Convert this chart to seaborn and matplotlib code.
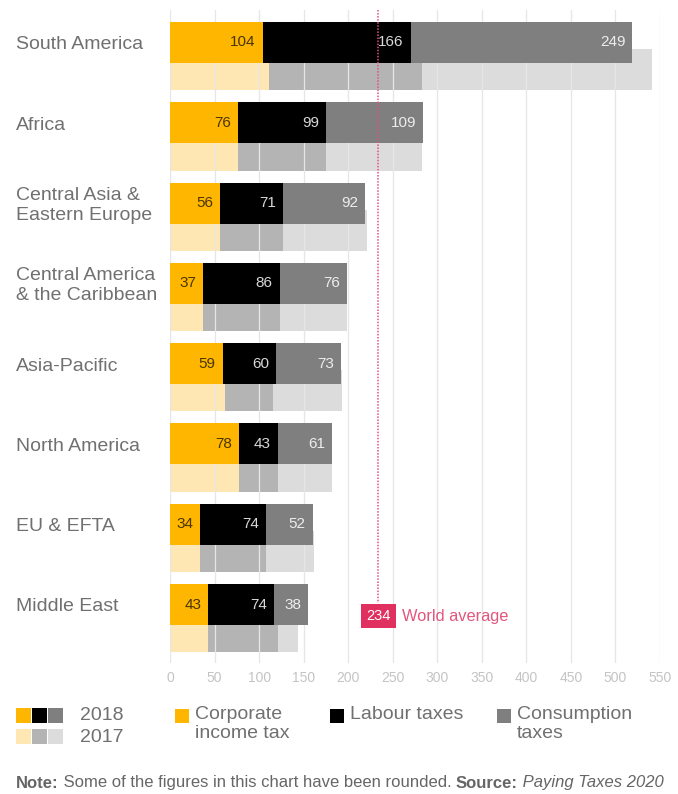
import matplotlib
matplotlib.use("Agg")
import matplotlib.pyplot as plt
import matplotlib.transforms as mtransforms
from matplotlib.patches import Rectangle
import numpy as np
import pandas as pd
import seaborn as sns

# ---------------- data ----------------
regions = ["South America", "Africa", "Central Asia &\nEastern Europe",
           "Central America\n& the Caribbean", "Asia-Pacific", "North America",
           "EU & EFTA", "Middle East"]
corp_2018 = [104, 76, 56, 37, 59, 78, 34, 43]
labour_2018 = [166, 99, 71, 86, 60, 43, 74, 74]
cons_2018 = [249, 109, 92, 76, 73, 61, 52, 38]
corp_2017 = [111, 76, 56, 37, 62, 78, 34, 43]
labour_2017 = [172, 99, 71, 86, 54, 43, 74, 78]
cons_2017 = [258, 108, 94, 76, 77, 61, 54, 23]
world_average = 234
x_ticks = [0, 50, 100, 150, 200, 250, 300, 350, 400, 450, 500, 550]

# ---------------- style ----------------
sns.set_theme(style="white")
plt.rcParams["font.family"] = ["Liberation Sans", "DejaVu Sans"]

C_CORP, C_LAB, C_CONS = "#FFB600", "#000000", "#7F7F7F"
C_CORP17, C_LAB17, C_CONS17 = "#FFE7B3", "#B4B4B4", "#DCDCDC"
RED = "#E0305F"
TXT = "#707070"

W, H = 678, 794
fig = plt.figure(figsize=(W / 100, H / 100), dpi=100)

# axes placement in pixels
ax_left, ax_right, ax_top, ax_bottom = 170, 660, 10, 663
ax = fig.add_axes([ax_left / W, 1 - ax_bottom / H,
                   (ax_right - ax_left) / W, (ax_bottom - ax_top) / H])

pitch = 80.29
y0 = 42.5
bar_h = 0.51
off17 = 0.34

pos18 = np.arange(len(regions), dtype=float)
pos17 = pos18 + off17

def stacked(pos, a, b, c, cols, z):
    a = np.array(a, float); b = np.array(b, float); c = np.array(c, float)
    layers = [(a + b + c, cols[2]), (a + b, cols[1]), (a, cols[0])]
    for vals, col in layers:
        df = pd.DataFrame({"value": vals, "pos": pos})
        sns.barplot(data=df, x="value", y="pos", orient="h", native_scale=True,
                    width=bar_h, color=col, saturation=1, linewidth=0,
                    errorbar=None, ax=ax, zorder=z)

stacked(pos17, corp_2017, labour_2017, cons_2017, (C_CORP17, C_LAB17, C_CONS17), 1)
stacked(pos18, corp_2018, labour_2018, cons_2018, (C_CORP, C_LAB, C_CONS), 2)

# value labels on 2018 bars
label_font = ["Liberation Sans Narrow", "Liberation Sans", "DejaVu Sans"]
for i in range(len(regions)):
    c1 = corp_2018[i]
    c2 = c1 + labour_2018[i]
    c3 = c2 + cons_2018[i]
    for xe, v, col in [(c1, corp_2018[i], "#4A3600"), (c2, labour_2018[i], "#D8D8D8"),
                       (c3, cons_2018[i], "#EDEDED")]:
        ax.annotate(str(v), xy=(xe, pos18[i]), xytext=(-5, 0), textcoords="offset points",
                    ha="right", va="center", fontsize=11, color=col,
                    family=label_font, zorder=5)

# axes limits / ticks
ax.set_xlim(0, 550)
ax.set_ylim((ax_bottom - y0) / pitch, (ax_top - y0) / pitch)
ax.set_xticks(x_ticks)
ax.set_xticklabels([str(t) for t in x_ticks])
ax.set_yticks([])
ax.set_xlabel("")
ax.set_ylabel("")
ax.tick_params(axis="x", length=0, pad=6, labelsize=10, labelcolor="#C4C4C4")
for s in ax.spines.values():
    s.set_visible(False)
ax.set_axisbelow("line")
ax.grid(axis="x", color="#E6E6E6", linewidth=0.9)
ax.grid(axis="y", visible=False)

# world average line + label
y_box = (616 - y0) / pitch
ax.plot([world_average, world_average], [(ax_top - y0) / pitch, (603 - y0) / pitch],
        linestyle=(0, (1, 1)), color="#E8507A", linewidth=1.1, zorder=3)
ax.text(world_average, y_box, str(world_average), ha="center", va="center",
        color="white", fontsize=10.5, family=label_font, zorder=6,
        bbox=dict(boxstyle="square,pad=0.35", fc=RED, ec="none"))
ax.text(world_average + 26, y_box, "World average", ha="left", va="center",
        color="#E2557F", fontsize=11.8, zorder=6)

# category labels
trans = mtransforms.blended_transform_factory(fig.transFigure, ax.transData)
for i, r in enumerate(regions):
    ax.text(16 / W, pos18[i] + 0.03, r, transform=trans, ha="left", va="center",
            fontsize=14, color=TXT, linespacing=1.2)

# ---------------- legend ----------------
def fx(px):
    return px / W

def fy(py):
    return 1 - py / H

sq = 15
for j, (c18, c17) in enumerate([(C_CORP, C_CORP17), (C_LAB, C_LAB17), (C_CONS, C_CONS17)]):
    x = 16 + j * 16
    fig.patches.append(Rectangle((fx(x), fy(708 + sq)), sq / W, sq / H,
                                 transform=fig.transFigure, fc=c18, ec="none"))
    fig.patches.append(Rectangle((fx(x), fy(729 + sq)), sq / W, sq / H,
                                 transform=fig.transFigure, fc=c17, ec="none"))
fig.text(fx(80), fy(716), "2018", ha="left", va="center", fontsize=14, color=TXT)
fig.text(fx(80), fy(738), "2017", ha="left", va="center", fontsize=14, color=TXT)

legend_items = [(175, C_CORP, "Corporate\nincome tax"),
                (330, C_LAB, "Labour taxes"),
                (497, C_CONS, "Consumption\ntaxes")]
for x, col, lab in legend_items:
    fig.patches.append(Rectangle((fx(x), fy(709 + 14)), 14 / W, 14 / H,
                                 transform=fig.transFigure, fc=col, ec="none"))
    fig.text(fx(x + 20), fy(706), lab, ha="left", va="top", fontsize=14,
             color=TXT, linespacing=1.15)

# ---------------- note ----------------
renderer = fig.canvas.get_renderer()
xcur = 16
parts = [("Note:", "bold", "normal"),
         (" Some of the figures in this chart have been rounded. ", "normal", "normal"),
         ("Source:", "bold", "normal"),
         (" Paying Taxes 2020", "normal", "italic")]
for txt, wgt, sty in parts:
    t = fig.text(fx(xcur), fy(783), txt, ha="left", va="center", fontsize=12,
                 color="#666666", weight=wgt, style=sty)
    bb = t.get_window_extent(renderer=renderer)
    xcur += bb.width

fig.savefig("out.png", dpi=100)
